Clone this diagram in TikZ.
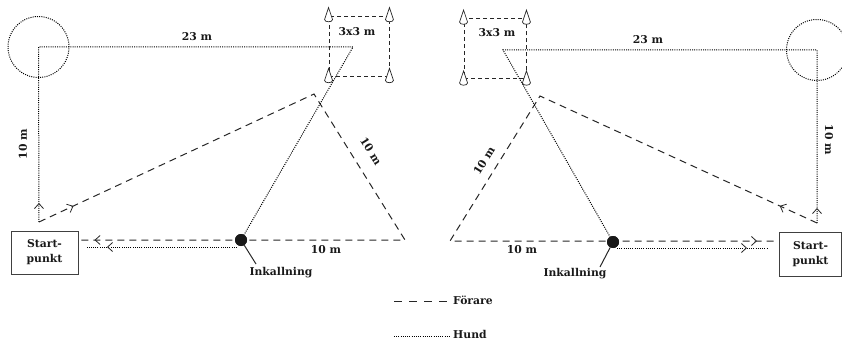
\documentclass[tikz,border=0pt]{standalone}
\usepackage{fontspec}
\setmainfont{DejaVu Serif}
\usetikzlibrary{arrows.meta,decorations.markings}
\tikzset{
  lbl/.style={font=\fontsize{10.8}{14}\selectfont\bfseries, inner sep=0pt, text=black!90},
  handler/.style={line width=1pt, dash pattern=on 7pt off 5pt, draw=black!85},
  dog/.style={line width=1pt, dash pattern=on 1pt off 1.2pt, draw=black},
  chev/.style={line width=0.8pt, solid, black!85},
  arrowat/.style={postaction={decorate, decoration={markings,
      mark=at position #1 with {\arrow[chev]{Straight Barb[length=5pt,width=9pt]}}}}},
  sqbox/.style={draw=black!85, line width=0.9pt, dash pattern=on 4pt off 3pt,
      minimum width=#1, minimum height=60pt, inner sep=0pt},
  startbox/.style={draw=black!75, line width=1pt, align=center, inner sep=0pt,
      font=\fontsize{10.8}{15}\selectfont\bfseries, text=black!90},
  dotnode/.style={circle, fill=black!90, inner sep=0pt, minimum size=12pt},
  ringnode/.style={circle, dog, minimum size=61pt, inner sep=0pt},
  cone/.pic={\draw[line width=0.7pt, fill=white, draw=black!85]
     (-4,0) -- (0,-12) -- (4,0) .. controls (4,3) and (-4,3) .. cycle;}
}
\begin{document}
\begin{tikzpicture}[x=1pt,y=-1pt]
\useasboundingbox (0,0) rectangle (842,339);

% ================= LEFT HALF =================
\coordinate (LS) at (39,222);
\coordinate (LC) at (38.5,47);
\coordinate (LT) at (353,47);
\coordinate (LA) at (314,94);
\coordinate (LB) at (405,240);
\coordinate (LR1) at (237,247);
\coordinate (LR2) at (87,247);

\node[ringnode] (LRing) at (LC) {};
\node[sqbox=60pt] (LSq) at (359,46) {};
\node[lbl] (LSqT) at (357,32) {3x3 m};
\pic at ([yshift=-4pt]LSq.north west) {cone};
\pic at ([yshift=-4pt]LSq.north east) {cone};
\pic at ([yshift=-4pt]LSq.south west) {cone};
\pic at ([yshift=-4pt]LSq.south east) {cone};

\node[startbox, minimum width=67pt, minimum height=43pt] (LStart) at (44.5,252.5) {Start-\\punkt};
\node[dotnode] (LDot) at (241,240) {};

% handler
\draw[handler, arrowat=38pt] (LS) -- (LA) -- (LB) -- ([xshift=2pt]LStart.east |- LB);
\draw[handler, draw=none, arrowat=-14pt] (LB) -- ([xshift=2pt]LStart.east |- LB);
% dog
\draw[dog, arrowat=19pt] (LS) -- (LC) -- (LT) -- (LDot);
\draw[dog, arrowat=-20pt] (LR1) -- (LR2);
\node[dotnode] at (LDot) {};

\node[lbl] (L23) at (197,37) {23 m};
\node[lbl, rotate=90] (L10v) at (23,144) {10 m};
\node[lbl, rotate=-58] (L10s) at (371,151) {10 m};
\node[lbl] (L10b) at (326,250) {10 m};
\node[lbl] (LInk) at (281,273) {Inkallning};
\coordinate (LInkE) at (256,264);
\draw[line width=1pt, black!85] (LDot) -- (LInkE);

% ================= RIGHT HALF =================
\coordinate (RS) at (817,223);
\coordinate (RC) at (817,50);
\coordinate (RT) at (503,50);
\coordinate (RA) at (540,96);
\coordinate (RB) at (450,241);
\coordinate (RR1) at (617,248);
\coordinate (RR2) at (768,248);

\node[ringnode] (RRing) at (RC) {};
\node[sqbox=62pt] (RSq) at (495,48.5) {};
\node[lbl] (RSqT) at (497,33) {3x3 m};
\pic at ([yshift=-4pt]RSq.north west) {cone};
\pic at ([yshift=-4pt]RSq.north east) {cone};
\pic at ([yshift=-4pt]RSq.south west) {cone};
\pic at ([yshift=-4pt]RSq.south east) {cone};

\node[startbox, minimum width=62pt, minimum height=44pt] (RStart) at (810.5,254) {Start-\\punkt};
\node[dotnode] (RDot) at (613,242) {};

% handler
\draw[handler, arrowat=41pt] (RS) -- (RA) -- (RB) -- ([xshift=-4pt]RStart.west |- RB);
\draw[handler, draw=none, arrowat=-18pt] (RB) -- ([xshift=-4pt]RStart.west |- RB);
% dog
\draw[dog, arrowat=15pt] (RS) -- (RC) -- (RT) -- (RDot);
\draw[dog, arrowat=-21pt] (RR1) -- (RR2);
\node[dotnode] at (RDot) {};

\node[lbl] (R23) at (648,40) {23 m};
\node[lbl, rotate=-90] (R10v) at (829,140) {10 m};
\node[lbl, rotate=58] (R10s) at (484,161) {10 m};
\node[lbl] (R10b) at (522,250) {10 m};
\node[lbl] (RInk) at (575,274) {Inkallning};
\coordinate (RInkE) at (600,267);
\draw[line width=1pt, black!85] (RDot) -- (RInkE);

% ================= LEGEND =================
\node[lbl, anchor=west] (LegF) at (453,300) {Förare};
\node[lbl, anchor=west] (LegH) at (453,334) {Hund};
\coordinate (LegD1) at (394,301);
\coordinate (LegD2) at (447,301);
\coordinate (LegH1) at (394,336);
\coordinate (LegH2) at (450,336);
\draw[handler, dash pattern=on 8pt off 7pt] (LegD1) -- (LegD2);
\draw[dog] (LegH1) -- (LegH2);
\end{tikzpicture}
\end{document}
